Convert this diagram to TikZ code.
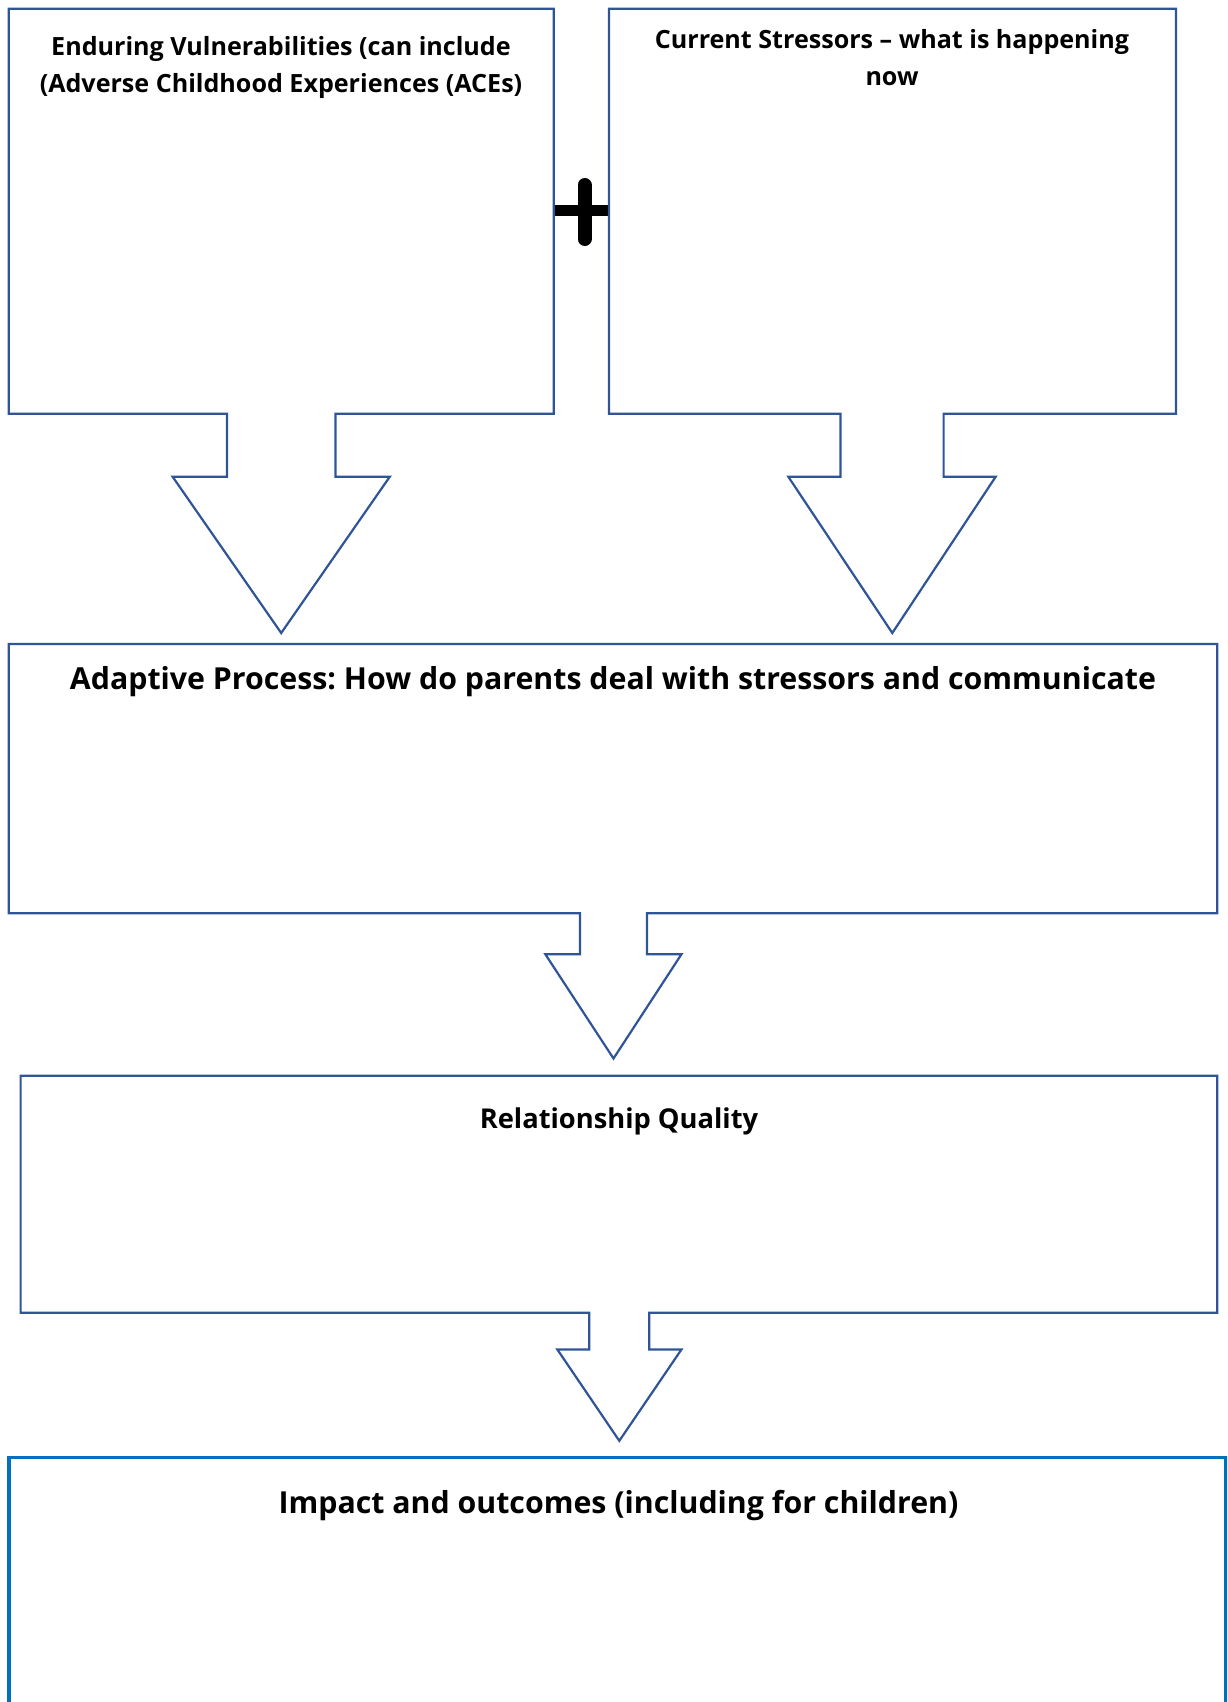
\documentclass[tikz,border=0pt]{standalone}
\usepackage{fontspec}
\setmainfont{Open Sans}
\definecolor{calloutblue}{HTML}{2F5597}
\definecolor{outcomeblue}{HTML}{0070C0}
\begin{document}
\frenchspacing
\begin{tikzpicture}[x=1pt,y=-1pt,
  callout/.style={draw=calloutblue,line width=2.2pt,line join=miter,fill=white},
  outcome/.style={draw=outcomeblue,line width=3.2pt},
  heading/.style={font=\bfseries\fontsize{25.1}{37}\selectfont,align=center,inner sep=0pt,anchor=center},
  midheading/.style={font=\bfseries\fontsize{27.3}{34}\selectfont,align=center,inner sep=0pt,anchor=center},
  bigheading/.style={font=\bfseries\fontsize{30.3}{36}\selectfont,align=center,inner sep=0pt,anchor=center}]
\useasboundingbox (0,0) rectangle (1227,1702);
\clip (0,0) rectangle (1227,1702);

% plus sign joining the two top boxes
\draw[line width=14pt,line cap=round] (584.5,185) coordinate (plustop) -- (584.5,239) coordinate (plusbot);
\draw[line width=11pt] (553.8,210.5) coordinate (plusl) -- (609,210.5) coordinate (plusr);

% enduring vulnerabilities
\draw[callout] (8.7,8.7) -- (553.8,8.7) -- (553.8,413.7) -- (335.5,413.7) -- (335.5,476.7)
  -- (389.8,476.7) -- (281.2,633) coordinate (tipA) -- (172.6,476.7) -- (226.9,476.7)
  -- (226.9,413.7) -- (8.7,413.7) -- cycle;
% current stressors
\draw[callout] (609,8.7) -- (1176,8.7) -- (1176,413.7) -- (943.6,413.7) -- (943.6,476.7)
  -- (995.7,476.7) -- (892.3,633) coordinate (tipB) -- (788.3,476.7) -- (840.4,476.7)
  -- (840.4,413.7) -- (609,413.7) -- cycle;
% adaptive process
\draw[callout] (8.7,643.9) -- (1217.2,643.9) -- (1217.2,913.2) -- (647,913.2) -- (647,954.2)
  -- (681.5,954.2) -- (613.5,1058.5) coordinate (tipC) -- (545.3,954.2) -- (580,954.2)
  -- (580,913.2) -- (8.7,913.2) -- cycle;
% relationship quality
\draw[callout] (20.6,1075.8) -- (1217.2,1075.8) -- (1217.2,1312.7) -- (649.3,1312.7) -- (649.3,1349.4)
  -- (681.5,1349.4) -- (619.3,1440.8) coordinate (tipD) -- (557.3,1349.4) -- (589.3,1349.4)
  -- (589.3,1312.7) -- (20.6,1312.7) -- cycle;
% impact and outcomes
\draw[outcome] (9,1457.3) rectangle (1226,1730);

\node[heading] (vuln) at (281,67.5) {Enduring Vulnerabilities (can include\\(Adverse Childhood Experiences (ACEs)};
\node[heading] (stress) at (892,57.5) {Current Stressors – what is happening\\now};
\node[bigheading] (adapt) at (613,682) {Adaptive Process: How do parents deal with stressors and communicate};
\node[midheading] (relq) at (619,1121.5) {Relationship Quality};
\node[bigheading] (impact) at (618.5,1506) {Impact and outcomes (including for children)};
\end{tikzpicture}
\end{document}
